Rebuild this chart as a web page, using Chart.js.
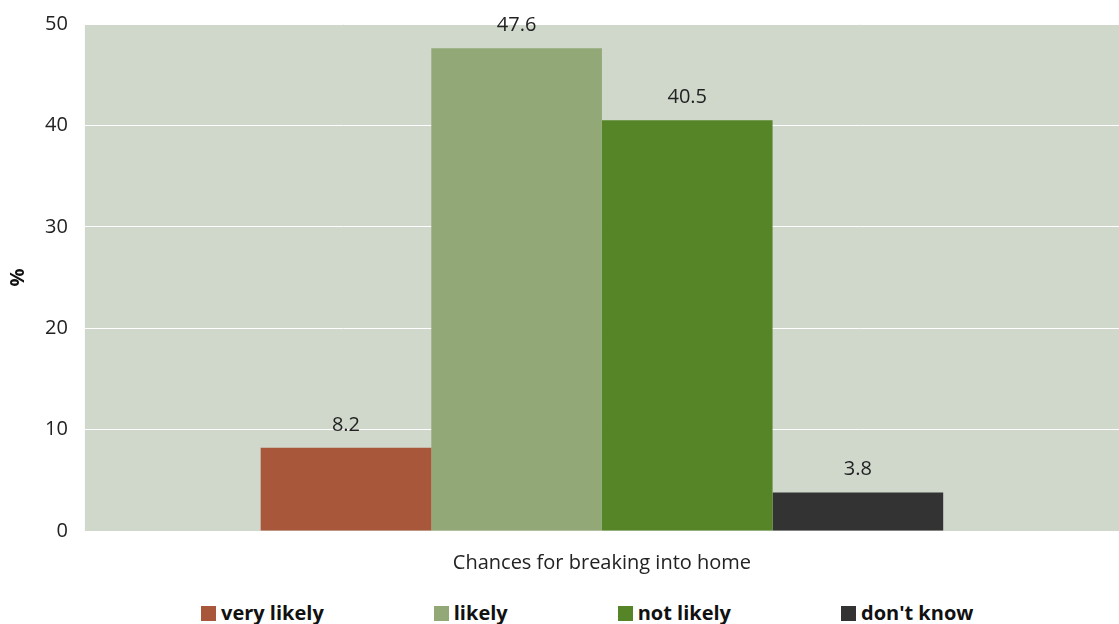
<!DOCTYPE html>
<html>
<head>
<meta charset="utf-8">
<script src="https://cdn.jsdelivr.net/npm/chart.js@4/dist/chart.umd.min.js"></script>
<style>
  html, body { margin: 0; padding: 0; background: #fff; }
  #wrap { position: relative; width: 1119px; height: 624px; overflow: hidden; }
  #chart { position: absolute; left: 0; top: -5px; }
  #legend {
    position: absolute; left: 201px; top: 599px;
    display: flex; gap: 110px;
    font-family: "Open Sans", "Noto Sans", sans-serif;
    font-size: 20px; font-weight: bold; color: #111;
  }
  #legend .item { display: flex; align-items: center; line-height: 28px; white-space: nowrap; }
  #legend .box { width: 15px; height: 15px; margin-right: 5px; }
</style>
</head>
<body>
<div id="wrap">
  <canvas id="chart" width="1119" height="592"></canvas>
  <div id="legend"></div>
</div>
<script>
// chart data
const categories = ['Chances for breaking into home'];
const seriesNames = ['very likely', 'likely', 'not likely', "don't know"];
const seriesValues = [[8.2], [47.6], [40.5], [3.8]];
const seriesColors = ['#A9573B', '#93A877', '#568528', '#333333'];
const yTicks = [0, 10, 20, 30, 40, 50];

const FONT = '"Open Sans", "Noto Sans", sans-serif';

// fill plot area with the grey-green background
const plotBg = {
    id: 'plotBg',
    beforeDraw(chart) {
        const { ctx, chartArea: a } = chart;
        ctx.save();
        ctx.fillStyle = '#D0D8CC';
        ctx.fillRect(a.left, a.top, a.right - a.left, a.bottom - a.top);
        ctx.restore();
    }
};

// value labels above each bar
const valueLabels = {
    id: 'valueLabels',
    afterDatasetsDraw(chart) {
        const ctx = chart.ctx;
        ctx.save();
        ctx.font = '20px ' + FONT;
        ctx.fillStyle = '#222';
        ctx.textAlign = 'center';
        ctx.textBaseline = 'bottom';
        chart.data.datasets.forEach((ds, i) => {
            chart.getDatasetMeta(i).data.forEach((bar, j) => {
                ctx.fillText(ds.data[j].toFixed(1), bar.x, bar.y - 13);
            });
        });
        ctx.restore();
    }
};

const ctx = document.getElementById('chart').getContext('2d');
const chart = new Chart(ctx, {
    type: 'bar',
    data: {
        labels: categories,
        datasets: seriesNames.map((name, i) => ({
            label: name,
            data: seriesValues[i],
            backgroundColor: seriesColors[i],
            borderWidth: 0,
            categoryPercentage: 0.66,
            barPercentage: 1
        }))
    },
    options: {
        responsive: false,
        animation: false,
        layout: { padding: { top: 7, right: 0, left: 0, bottom: 0 } },
        scales: {
            x: {
                grid: { display: false },
                border: { display: false },
                ticks: { color: '#222', font: { family: FONT, size: 20 }, padding: 12 }
            },
            y: {
                min: 0,
                max: 50,
                afterBuildTicks(axis) { axis.ticks = yTicks.map(v => ({ value: v })); },
                grid: { color: '#fff', lineWidth: 1, drawTicks: false },
                border: { display: false },
                ticks: { color: '#222', font: { family: FONT, size: 20 }, padding: 17 },
                title: {
                    display: true, text: '%', color: '#111',
                    font: { family: FONT, size: 20, weight: 'bold', lineHeight: 1 },
                    padding: { top: 8, bottom: 0 }
                }
            }
        },
        plugins: {
            legend: { display: false },
            tooltip: { enabled: false }
        }
    },
    plugins: [plotBg, valueLabels]
});

// legend as html under the chart
const legendEl = document.getElementById('legend');
chart.data.datasets.forEach(ds => {
    const item = document.createElement('div');
    item.className = 'item';
    item.innerHTML = `<span class="box" style="background:${ds.backgroundColor}"></span>${ds.label}`;
    legendEl.appendChild(item);
});
</script>
</body>
</html>
